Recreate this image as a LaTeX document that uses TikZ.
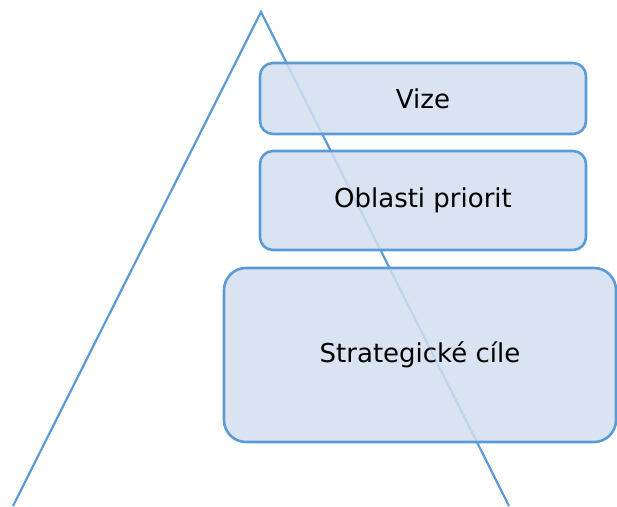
\documentclass[tikz,border=0pt]{standalone}
\usepackage{fontspec}
\setmainfont{DejaVu Sans}
\usepackage{tikz}
\definecolor{myblue}{HTML}{5B9BD5}
\definecolor{myfill}{HTML}{D3DEF0}
\tikzset{%
  myline/.style={draw=myblue, line width=2.2pt},
  mybox/.style={rectangle, draw=myblue, line width=2.6pt, fill=myfill, fill opacity=0.85, text opacity=1, rounded corners=13pt, font=\fontsize{26}{30}\selectfont}
}

\begin{document}
\begin{tikzpicture}[x=1pt, y=-1pt]
  \useasboundingbox (0,0) rectangle (617,506);
  \coordinate (top) at (261,12);
  \coordinate (L) at (13,506);
  \coordinate (R) at (509,506);
  \draw [myline] (L) -- (top) -- (R);
  \node[mybox, minimum width=326pt, minimum height=71pt] (vize) at (423,98.5) {Vize};
  \node[mybox, minimum width=326pt, minimum height=99pt] (oblasti) at (423,200.5) {Oblasti priorit};
  \node[mybox, rounded corners=22pt, minimum width=392pt, minimum height=174pt] (cile) at (420,355) {Strategické cíle};
\end{tikzpicture}
\end{document}
